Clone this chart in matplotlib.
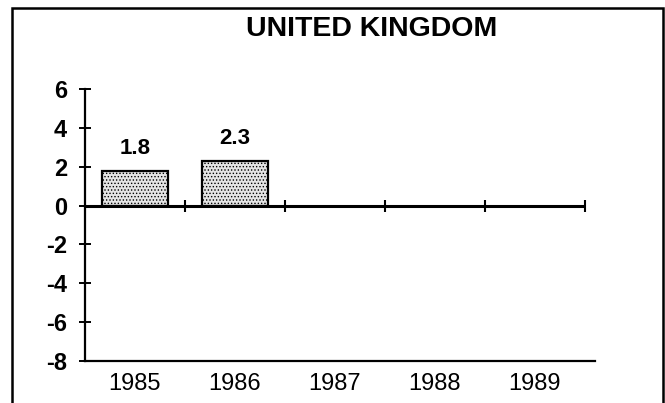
import matplotlib
matplotlib.use("Agg")
import matplotlib.pyplot as plt
from matplotlib.patches import Rectangle
import numpy as np

plt.rcParams['font.family'] = ['Liberation Sans', 'DejaVu Sans']
plt.rcParams['hatch.linewidth'] = 0.6

title = "UNITED KINGDOM"
years = ["1985", "1986", "1987", "1988", "1989"]
values = [1.8, 2.3, None, None, None]
bar_labels = ["1.8", "2.3"]
yticks = [6, 4, 2, 0, -2, -4, -6, -8]

W, H = 665, 403
fig = plt.figure(figsize=(W / 100, H / 100), dpi=100)
ax = fig.add_axes([85 / W, 1 - 361 / H, (595 - 85) / W, (361 - 89) / H])

x = np.arange(len(years))
vals = [v for v in values if v is not None]
xb = x[:len(vals)]
ax.bar(xb, vals, width=0.66, facecolor='#e4e4e4', edgecolor='black',
       linewidth=1.6, hatch='.....', zorder=3)
for xi, v, lab in zip(xb, vals, bar_labels):
    ax.text(xi, v + 0.6, lab, ha='center', va='bottom', fontsize=16,
            fontweight='bold', zorder=4)

# zero line with category-boundary ticks
bounds = np.arange(len(years) + 1) - 0.5
ax.plot([bounds[0], bounds[-1]], [0, 0], color='black', lw=2.2, zorder=5,
        solid_capstyle='butt')
ax.plot(bounds[1:], np.zeros(len(bounds) - 1), linestyle='none', marker='|',
        markersize=9, markeredgewidth=1.5, color='black', zorder=5)

ax.set_xlim(-0.5, len(years) - 0.4)
ax.set_ylim(-8, 6)
ax.set_yticks(yticks)
ax.set_yticklabels([str(t) for t in yticks], fontsize=17, fontweight='bold')
ax.set_xticks(x)
ax.set_xticklabels(years, fontsize=17)
ax.tick_params(axis='x', length=0, pad=9)
ax.tick_params(axis='y', direction='inout', length=8, width=1.4, pad=9)
for s in ['top', 'right']:
    ax.spines[s].set_visible(False)
ax.spines['left'].set_linewidth(1.6)
ax.spines['bottom'].set_linewidth(1.6)

fig.text(372 / W, 1 - 29 / H, title, ha='center', va='center', fontsize=20.5,
         fontweight='bold')

# figure frame
fig.patches.append(Rectangle((12 / W, -0.05), (663 - 12) / W, 1.05 - 8 / H,
                             transform=fig.transFigure, fill=False,
                             edgecolor='black', linewidth=1.8))

fig.savefig("out.png", dpi=100)
